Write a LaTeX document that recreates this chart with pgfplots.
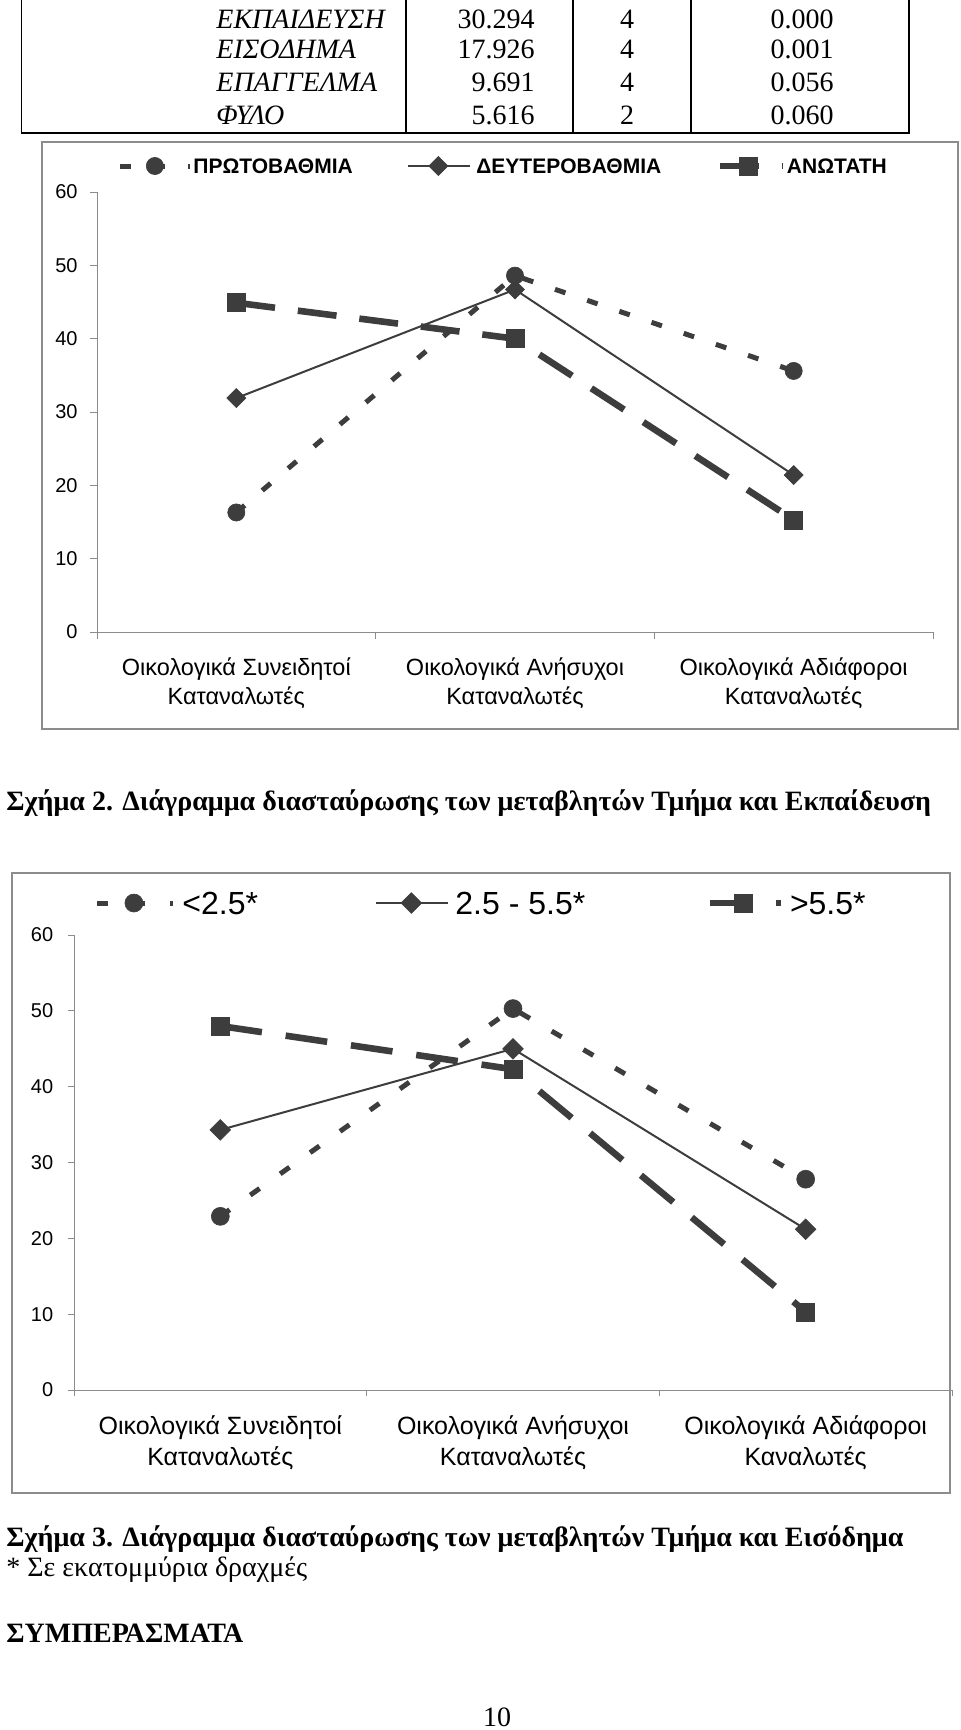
\documentclass[border=0pt]{standalone}
\usepackage{fontspec}
\setmainfont{Liberation Serif}
\newfontfamily\arial{Liberation Sans}
\usepackage{pgfplots}
\usepackage{pgfplotstable}
\pgfplotsset{compat=1.18}
\definecolor{ser}{HTML}{3D3D3D}
\definecolor{frm}{HTML}{8C8C8C}
\definecolor{axl}{HTML}{8C8C8C}

\pgfplotstableread{
x p1 p2 p3
0.5 16.3 31.9 44.9
1.5 48.6 46.7 40.0
2.5 35.6 21.4 15.3
}\educ
\pgfplotstableread{
x p1 p2 p3
0.5 22.9 34.3 48.0
1.5 50.3 45.0 42.3
2.5 27.8 21.2 10.3
}\income

\pgfplotsset{
  cat/.style={
    scale only axis, clip=false,
    /pgf/number format/assume math mode=true,
    xmin=0, xmax=3, ymin=0, ymax=60,
    axis x line=bottom, axis y line=left,
    axis line style={draw=axl, line width=0.5pt, -},
    tick style={draw=axl, line width=0.5pt},
    tick align=outside,
    ytick={0,10,...,60},
    xtick={0,1,2,3}, xticklabels={},
    extra x ticks={0.5,1.5,2.5},
    extra x tick style={major tick length=0pt, tick style={draw=none}},
    legend columns=3,
    legend cell align=left,
  },
  leg/.style 2 args={legend image code/.code={%
    \draw[mark repeat=2,mark phase=2,##1] plot coordinates {(0pt,0pt) (#1,0pt) (#2,0pt)};}},
}

\begin{document}
\begin{tikzpicture}
\path[use as bounding box] (0pt,0pt) rectangle (480pt,-865pt);

\begin{scope}[x=0.5pt,y=-0.5pt]
% table fragment
\draw[line width=0.8pt] (21.5,-2) -- (21.5,133) -- (909,133) -- (909,-2);
\draw[line width=0.8pt] (406,-2) -- (406,133) (573,-2) -- (573,133) (691,-2) -- (691,133);
\begin{scope}[every node/.style={inner sep=0pt, font=\fontsize{14}{16}\selectfont}]
\node[anchor=base west] at (216,28.3) {\itshape ΕΚΠΑΙΔΕΥΣΗ};
\node[anchor=base west] at (216,58.3) {\itshape ΕΙΣΟΔΗΜΑ};
\node[anchor=base west] at (216,91.7) {\itshape ΕΠΑΓΓΕΛΜΑ};
\node[anchor=base west] at (216,124) {\itshape ΦΥΛΟ};
\node[anchor=base east] at (535,28.3) {30.294};
\node[anchor=base east] at (535,58.3) {17.926};
\node[anchor=base east] at (535,91.7) {9.691};
\node[anchor=base east] at (535,124) {5.616};
\node[anchor=base] at (627,28.3) {4};
\node[anchor=base] at (627,58.3) {4};
\node[anchor=base] at (627,91.7) {4};
\node[anchor=base] at (627,124) {2};
\node[anchor=base east] at (834,28.3) {0.000};
\node[anchor=base east] at (834,58.3) {0.001};
\node[anchor=base east] at (834,91.7) {0.056};
\node[anchor=base east] at (834,124) {0.060};
% captions
\node[anchor=base west, font=\bfseries\fontsize{14}{16}\selectfont] at (6,810) {Σχήμα 2. Διάγραμμα διασταύρωσης των μεταβλητών Τμήμα και Εκπαίδευση};
\node[anchor=base west, font=\bfseries\fontsize{14}{16}\selectfont] at (6,1546) {Σχήμα 3. Διάγραμμα διασταύρωσης των μεταβλητών Τμήμα και Εισόδημα};
\node[anchor=base west] at (6,1576) {* Σε εκατομμύρια δραχμές};
\node[anchor=base west, font=\bfseries\fontsize{14}{16}\selectfont] at (6,1642) {ΣΥΜΠΕΡΑΣΜΑΤΑ};
\node[anchor=base] at (497,1726) {10};
\end{scope}
% chart frames
\draw[frm, line width=1pt] (42,142) rectangle (958,729);
\draw[frm, line width=1pt] (12,872.7) rectangle (950,1492.7);
\end{scope}

% ---------- Chart 1 ----------
\begin{axis}[cat,
  at={(48.5pt,-316pt)}, anchor=south west,
  width=418pt, height=220pt,
  major tick length=3.5pt,
  yticklabel style={font=\arial\fontsize{10}{12}\selectfont, xshift=-2.7pt},
  xticklabel style={font=\arial\fontsize{11.75}{14.5}\selectfont, align=center, yshift=-9.5pt},
  extra x tick labels={{Οικολογικά Συνειδητοί\\Καταναλωτές},{Οικολογικά Ανήσυχοι\\Καταναλωτές},{Οικολογικά Αδιάφοροι\\Καταναλωτές}},
  legend style={at={(0.0239,1.0591)}, anchor=west, draw=none, fill=none,
    inner sep=0pt, column sep=0pt,
    nodes={inner sep=0pt, outer sep=0pt, text depth=0pt},
    font=\arial\bfseries\fontsize{10.5}{12}\selectfont},
]
\addplot[color=ser, line width=2.5pt, dash pattern=on 5.5pt off 11.5pt,
  mark=*, mark size=4.3pt, mark options={solid, line width=0.3pt, fill=ser},
  leg={17.5pt}{35pt}] table[x=x,y=p1] {\educ};
\addlegendentry{\makebox[107.5pt][l]{\hspace{0.5pt}ΠΡΩΤΟΒΑΘΜΙΑ}}
\addplot[color=ser, line width=1pt, solid,
  mark=square*, mark size=3.36pt, mark options={solid, rotate=45, line width=0.3pt, fill=ser},
  leg={15pt}{31pt}] table[x=x,y=p2] {\educ};
\addlegendentry{\makebox[122.5pt][l]{\hspace{2.5pt}ΔΕΥΤΕΡΟΒΑΘΜΙΑ}}
\addplot[color=ser, line width=3.3pt, dash pattern=on 19.5pt off 11.5pt,
  mark=square*, mark size=4.5pt, mark options={solid, line width=0.3pt, fill=ser},
  leg={14.5pt}{31.5pt}] table[x=x,y=p3] {\educ};
\addlegendentry{\makebox[60pt][l]{\hspace{0.5pt}ΑΝΩΤΑΤΗ}}
\end{axis}

% ---------- Chart 2 ----------
\begin{axis}[cat,
  at={(37pt,-695pt)}, anchor=south west,
  width=439pt, height=227.5pt,
  major tick length=3.2pt,
  yticklabel style={font=\arial\fontsize{10}{12}\selectfont, xshift=-3.7pt},
  xticklabel style={font=\arial\fontsize{12.5}{15.5}\selectfont, align=center, yshift=-9.3pt},
  extra x tick labels={{Οικολογικά Συνειδητοί\\Καταναλωτές},{Οικολογικά Ανήσυχοι\\Καταναλωτές},{Οικολογικά Αδιάφοροι\\Καναλωτές}},
  legend style={at={(0.0228,1.0703)}, anchor=west, draw=none, fill=none,
    inner sep=0pt, column sep=0pt,
    nodes={inner sep=0pt, outer sep=0pt, text depth=0pt},
    font=\arial\fontsize{16}{19}\selectfont},
]
\addplot[color=ser, line width=2.5pt, dash pattern=on 5.75pt off 12.6pt,
  mark=*, mark size=4.5pt, mark options={solid, line width=0.3pt, fill=ser},
  leg={18.5pt}{38pt}] table[x=x,y=p1] {\income};
\addlegendentry{\makebox[100pt][l]{\hspace{3.5pt}<2.5*}}
\addplot[color=ser, line width=1pt, solid,
  mark=square*, mark size=3.65pt, mark options={solid, rotate=45, line width=0.3pt, fill=ser},
  leg={17.5pt}{36pt}] table[x=x,y=p2] {\income};
\addlegendentry{\makebox[128.5pt][l]{\hspace{3pt}2.5 - 5.5*}}
\addplot[color=ser, line width=3.3pt, dash pattern=on 21pt off 12pt,
  mark=square*, mark size=4.5pt, mark options={solid, line width=0.3pt, fill=ser},
  leg={17pt}{35.5pt}] table[x=x,y=p3] {\income};
\addlegendentry{\makebox[60pt][l]{\hspace{3pt}>5.5*}}
\end{axis}
\end{tikzpicture}
\end{document}
